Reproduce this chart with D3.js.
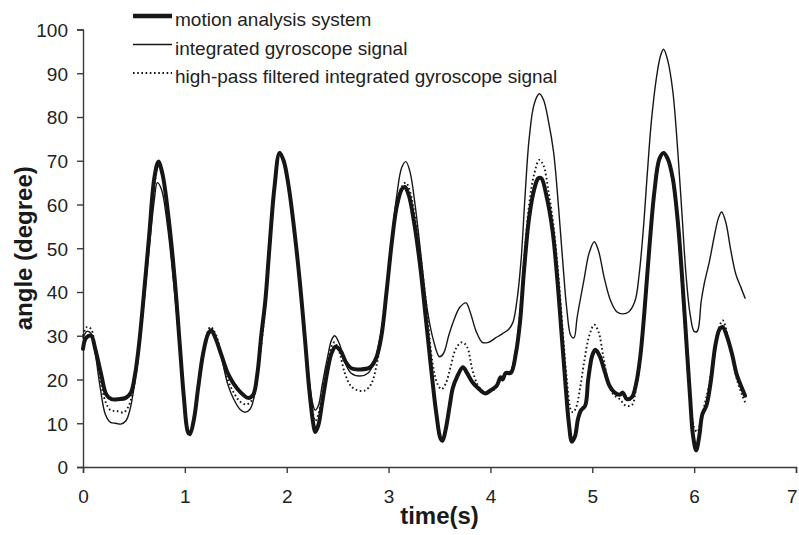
<!DOCTYPE html>
<html>
<head>
<meta charset="utf-8">
<script src="https://cdn.jsdelivr.net/npm/d3@7/dist/d3.min.js"></script>
<style>
  html, body { margin: 0; padding: 0; background: #fff; }
  svg { display: block; font-family: "Liberation Sans", Arial, Helvetica, sans-serif; }
</style>
</head>
<body>
<svg id="chart" width="799" height="535"></svg>
<script>
// Knee angle over time: optical motion analysis vs. gyroscope-derived estimates
const legendLabels = [
  "motion analysis system",
  "integrated gyroscope signal",
  "high-pass filtered integrated gyroscope signal"
];
const xTicks = [0, 1, 2, 3, 4, 5, 6, 7];
const yTicks = [0, 10, 20, 30, 40, 50, 60, 70, 80, 90, 100];

// motion analysis system (time in s, angle in degrees)
const timeMotion = [0.00,0.03,0.08,0.12,0.18,0.23,0.28,0.35,0.42,0.47,0.51,0.55,0.60,0.65,0.70,0.74,0.78,0.84,0.90,0.95,0.99,1.03,1.05,1.09,1.13,1.18,1.23,1.26,1.30,1.36,1.42,1.48,1.55,1.62,1.67,1.71,1.75,1.79,1.83,1.88,1.93,1.97,2.02,2.08,2.13,2.18,2.22,2.26,2.28,2.31,2.35,2.40,2.44,2.48,2.53,2.58,2.64,2.72,2.82,2.88,2.93,2.98,3.03,3.08,3.13,3.16,3.20,3.25,3.31,3.37,3.42,3.47,3.51,3.53,3.56,3.60,3.63,3.67,3.73,3.77,3.82,3.88,3.95,4.00,4.06,4.10,4.12,4.15,4.20,4.25,4.29,4.33,4.38,4.43,4.47,4.50,4.55,4.61,4.66,4.70,4.74,4.77,4.80,4.83,4.86,4.89,4.93,4.96,5.00,5.03,5.07,5.12,5.17,5.22,5.27,5.30,5.34,5.39,5.43,5.47,5.51,5.56,5.61,5.66,5.70,5.74,5.79,5.84,5.88,5.92,5.96,5.99,6.02,6.05,6.08,6.12,6.16,6.21,6.25,6.28,6.32,6.37,6.42,6.47,6.50];
const motion = [27,29.5,30,27,21,16.5,15.5,15.5,15.8,17,21,28,40,53,66,69.8,67,57,43,28,16,8,7.5,11,18,26,30.5,31.2,29.5,25.5,21.5,19,17,15.8,16.5,21,30,38,50,64,71.8,70,64,53,42,29,18,10,8,9.5,15,22,26,27.5,26.5,24,22.5,22.3,22.8,25,30,40,51,59.5,63.5,64,62,56,46,33,22,12,6.5,6,8.5,14,18,20.5,22.8,21.5,19.5,18,16.8,17.5,18.5,20.5,20,21.5,21.5,26,33,45,57,63.5,66,66,62,54,42,30,18,10,5.8,7,11,13,14,20,25.5,26.8,25.5,22,18.5,17,16.5,17,15.5,16,19,25,35,50,63,70.5,71.8,70.5,66,56,44,30,16,7,3.8,7,12,14,19,28,31.5,32,30,26,21,18,16.3];

// integrated gyroscope signal
const timeGyro = [0.00,0.04,0.08,0.12,0.17,0.22,0.27,0.32,0.37,0.42,0.46,0.50,0.55,0.60,0.65,0.70,0.73,0.77,0.83,0.89,0.95,0.99,1.03,1.06,1.10,1.15,1.20,1.25,1.30,1.36,1.42,1.48,1.54,1.59,1.64,1.68,1.72,1.76,1.80,1.85,1.89,1.93,1.97,2.02,2.08,2.13,2.18,2.22,2.26,2.28,2.31,2.35,2.40,2.44,2.47,2.52,2.57,2.63,2.72,2.80,2.86,2.92,2.98,3.03,3.08,3.13,3.17,3.21,3.26,3.32,3.38,3.44,3.50,3.54,3.59,3.64,3.70,3.76,3.80,3.86,3.92,3.98,4.05,4.12,4.18,4.22,4.26,4.30,4.34,4.38,4.43,4.48,4.52,4.57,4.62,4.67,4.71,4.75,4.79,4.82,4.85,4.88,4.92,4.97,5.02,5.06,5.12,5.18,5.24,5.30,5.36,5.42,5.46,5.50,5.54,5.58,5.63,5.67,5.70,5.74,5.79,5.84,5.88,5.92,5.96,6.00,6.03,6.07,6.10,6.15,6.20,6.24,6.27,6.31,6.36,6.41,6.46,6.50];
const gyro = [29.5,31,30.5,26,18,12,10.2,10,9.8,10.5,13,18,27,38,50,61,65,63.5,55,42,27,15,7.5,8,13,21,28,31.5,30,25,19,15.5,13.2,12.5,13.2,16,23,31,40,55,66,72,70,64,53,42,30,20,14,13,14,19,25,29,30,28,24,21.5,20.8,21.5,24,30,40,52,62,68.5,69.8,67.5,60,48,36,29,25.2,26,30,33.5,36.5,37.5,35.5,31,28.5,28.5,29.5,30.5,31.5,33,38,47,62,75,83,85.3,84,79,72,59,47,36,30,29.5,34,38,43,49,51.5,49.5,43,38,35.5,35,35.5,38,44,54,67,79,89,94,95.5,93,86,72,58,44,35,31,31,38,42,47,53,57,58.3,56,49.5,44,41,38.6];

// high-pass filtered integrated gyroscope signal
const timeFiltered = [0.00,0.04,0.08,0.12,0.17,0.22,0.27,0.33,0.40,0.45,0.50,0.55,0.60,0.65,0.70,0.74,0.78,0.84,0.90,0.95,0.99,1.03,1.06,1.10,1.15,1.20,1.25,1.30,1.36,1.42,1.48,1.54,1.60,1.65,1.69,1.73,1.77,1.81,1.85,1.89,1.93,1.97,2.02,2.08,2.13,2.18,2.22,2.26,2.28,2.31,2.35,2.40,2.44,2.47,2.52,2.57,2.63,2.70,2.77,2.83,2.88,2.93,2.98,3.03,3.08,3.13,3.17,3.21,3.26,3.32,3.38,3.43,3.48,3.52,3.56,3.61,3.66,3.72,3.77,3.82,3.87,3.92,3.98,4.05,4.10,4.15,4.20,4.25,4.29,4.33,4.38,4.43,4.48,4.52,4.57,4.62,4.67,4.71,4.75,4.79,4.81,4.84,4.88,4.92,4.97,5.02,5.06,5.11,5.16,5.21,5.27,5.33,5.39,5.43,5.47,5.51,5.56,5.61,5.66,5.70,5.74,5.79,5.84,5.88,5.92,5.96,6.00,6.03,6.06,6.10,6.14,6.19,6.24,6.28,6.32,6.37,6.42,6.47,6.50];
const filtered = [30,32,31.5,27,20,15,13,12.8,12.5,14,18.5,27,39,52,64,69,66.5,57,43,29,17,8.5,8,13,21,28.5,32,30.5,25.5,20,17,15,14.3,15,18,24,32,42,55,66,72,70,64,53,42,29,19,12,10.5,12,17,24,27.5,28.5,26,21.5,18.5,17.5,17.5,19,23,30,39,50,59,64,65,63,57,47,35,24,19,17.8,19,23,27,28.5,27.5,22.5,19,17.5,17,18,20,21,22,27,35,47,60,67,70.2,69,63,55,43,31,20,13,12.5,13.5,18,24,30,32.5,31,25,19,16.5,15.5,14,14.2,18,24,35,50,63,70.5,72,70.5,65,55,42,28,16,9,8,10,14,18,25,31.5,33.5,31,25.5,20,16.5,14.8];

const svg = d3.select("#chart");
const margin = { left: 83, right: 3, top: 29.5, bottom: 68 };
const W = 799, H = 535;

const x = d3.scaleLinear().domain([0, 7]).range([margin.left, W - margin.right]);
const y = d3.scaleLinear().domain([0, 100]).range([H - margin.bottom, margin.top]);

const ink = "#161616";
const axisInk = "#3a3a3a";

// axes
const xAxis = svg.append("g")
  .attr("transform", `translate(0,${y(0)})`)
  .call(d3.axisBottom(x).tickValues(xTicks).tickSize(6).tickPadding(17).tickFormat(d3.format("d")));
const yAxis = svg.append("g")
  .attr("transform", `translate(${x(0)},0)`)
  .call(d3.axisLeft(y).tickValues(yTicks).tickSize(6).tickPadding(9).tickFormat(d3.format("d")));

[xAxis, yAxis].forEach(g => {
  g.select(".domain").attr("stroke", axisInk).attr("stroke-width", 1.4);
  g.selectAll(".tick line").attr("stroke", axisInk).attr("stroke-width", 1.4);
  g.selectAll(".tick text")
    .attr("fill", "#222")
    .style("font-size", "19px")
    .style("font-family", "'Liberation Sans', Arial, Helvetica, sans-serif");
});
yAxis.selectAll(".tick text").attr("dy", "0.36em");
// keep the last x label inside the canvas edge
xAxis.selectAll(".tick text").filter(d => d === xTicks[xTicks.length - 1])
  .attr("text-anchor", "end").attr("dx", "1");

// axis titles
svg.append("text")
  .attr("x", x(3.5))
  .attr("y", 524)
  .attr("text-anchor", "middle")
  .attr("fill", "#1a1a1a")
  .style("font-size", "24px")
  .style("font-weight", "bold")
  .text("time(s)");

svg.append("text")
  .attr("transform", `translate(32,${y(50)}) rotate(-90)`)
  .attr("text-anchor", "middle")
  .attr("fill", "#1a1a1a")
  .style("font-size", "24px")
  .style("font-weight", "bold")
  .text("angle (degree)");

// series
const curve = d3.curveCatmullRom.alpha(0.5);
const styles = [
  { width: 4, dash: null },
  { width: 1.4, dash: null },
  { width: 1.9, dash: "1.6,2.6" }
];
const series = [
  { t: timeGyro, v: gyro, s: styles[1] },
  { t: timeFiltered, v: filtered, s: styles[2] },
  { t: timeMotion, v: motion, s: styles[0] }
];

const line = d3.line()
  .x(d => x(d[0]))
  .y(d => y(d[1]))
  .curve(curve);

series.forEach(sr => {
  const pts = sr.t.map((t, i) => [t, sr.v[i]]);
  svg.append("path")
    .datum(pts)
    .attr("fill", "none")
    .attr("stroke", ink)
    .attr("stroke-width", sr.s.width)
    .attr("stroke-linejoin", "round")
    .attr("stroke-linecap", sr.s.dash ? "butt" : "round")
    .attr("stroke-dasharray", sr.s.dash)
    .attr("d", line);
});

// legend
const legend = svg.append("g");
legendLabels.forEach((label, i) => {
  const baseY = 26 + i * 28.5;
  const st = styles[i];
  legend.append("line")
    .attr("x1", 133).attr("x2", 172)
    .attr("y1", baseY - 10).attr("y2", baseY - 10)
    .attr("stroke", ink)
    .attr("stroke-width", i === 0 ? 4.4 : st.width)
    .attr("stroke-dasharray", st.dash);
  legend.append("text")
    .attr("x", 175)
    .attr("y", baseY)
    .attr("fill", "#222")
    .style("font-size", "19px")
    .text(label);
});
</script>
</body>
</html>
